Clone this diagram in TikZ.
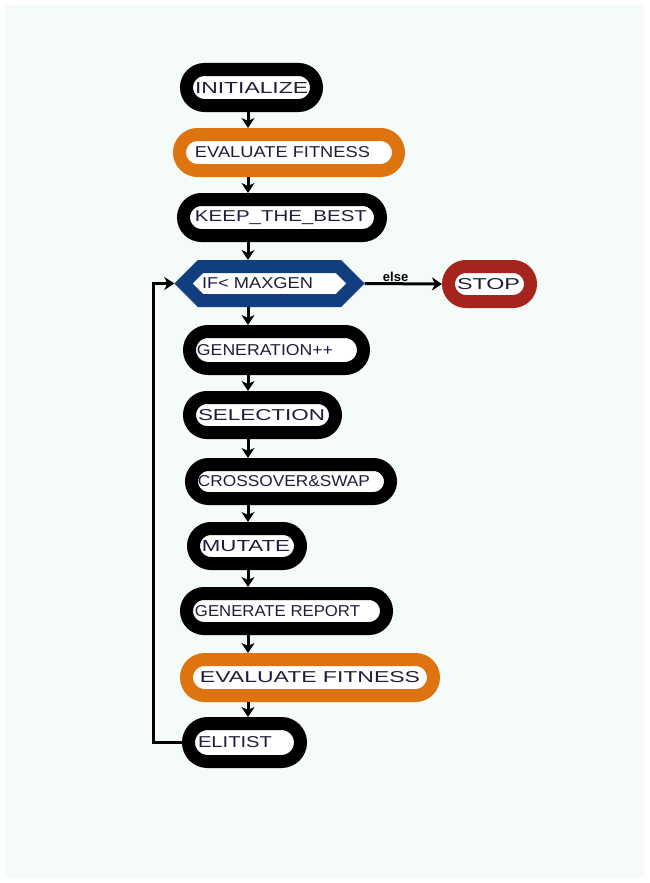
\documentclass[tikz,border=0pt]{standalone}
\usepackage{fontspec}
\setmainfont{Liberation Sans}
\usetikzlibrary{shapes.misc,shapes.symbols,arrows.meta}

\definecolor{navytext}{RGB}{30,30,60}
\definecolor{paper}{RGB}{245,251,248}
\definecolor{fitorange}{RGB}{221,116,16}
\definecolor{testblue}{RGB}{18,62,128}
\definecolor{stopred}{RGB}{165,36,30}

\begin{document}
\begin{tikzpicture}
[x=1pt,y=-1pt,
  plainbox/.style={shape=rounded rectangle,draw=black,line width=13pt,fill=white,%
    text=navytext,inner sep=0pt},
  fitbox/.style={plainbox,draw=fitorange},
  stopbox/.style={plainbox,draw=stopred},
  testbox/.style={plainbox,shape=signal,signal to=east and west,%
    signal pointer angle=90,draw=testblue},
  flowarrow/.style={-{Stealth[length=10pt,width=13pt,inset=3pt]},line width=3pt}]
%% paper
\fill[white] (0,0) rectangle (649,883);
\fill[paper] (5,5) rectangle (644,878);
%% boxes
\foreach \nodename/\x/\y/\w/\h/\kind/\dx/\tw/\txt in {
  init/251.5/87.5/130/36/plainbox/0/113/INITIALIZE,
  eval1/289/152.5/219/36/fitbox/-13/175/EVALUATE FITNESS,
  keep/282/217.5/197/36/plainbox/-2/172/KEEP\_THE\_BEST,
  test/269.5/283.5/172/34/testbox/-24/111/IF< MAXGEN,
  stop/489.5/284/82/35/stopbox/-2/63/STOP,
  gen/276.5/350/174/37/plainbox/-23/136/GENERATION++,
  sel/262.5/415/146/35/plainbox/-2/127/SELECTION,
  cross/291/481.5/199/34/plainbox/-14/172/CROSSOVER\&SWAP,
  mut/247/546/107/35/plainbox/-2/88/MUTATE,
  report/286.5/611/200/35/plainbox/-18/165/GENERATE REPORT,
  eval2/310/677.5/247/36/fitbox/0/220/EVALUATE FITNESS,
  elit/244.5/742.5/112/38/plainbox/-19/74/ELITIST}
{
  \node (\nodename) at (\x,\y) [\kind,minimum width=\w pt,minimum height=\h pt]
    {\hspace*{\dx pt}\resizebox{\tw pt}{11pt}{\txt}};
}
%% connectors
\coordinate (col) at (248,0);
\coordinate (loop) at (153,0);
\foreach \startnode/\endnode in {init/eval1, eval1/keep, keep/test, test/gen,
  gen/sel, sel/cross, cross/mut, mut/report, report/eval2, eval2/elit}
{
  \draw[flowarrow] (\startnode.south -| col) -- (\endnode.north -| col);
}
\draw[flowarrow] (test.east) -- node[pos=0.4,above,inner sep=1pt,font=\bfseries\fontsize{13}{13}\selectfont]{else} (stop.west);
\draw[flowarrow] (elit.west) -- (elit.west -| loop) |- (test.west);
\end{tikzpicture}
\end{document}
